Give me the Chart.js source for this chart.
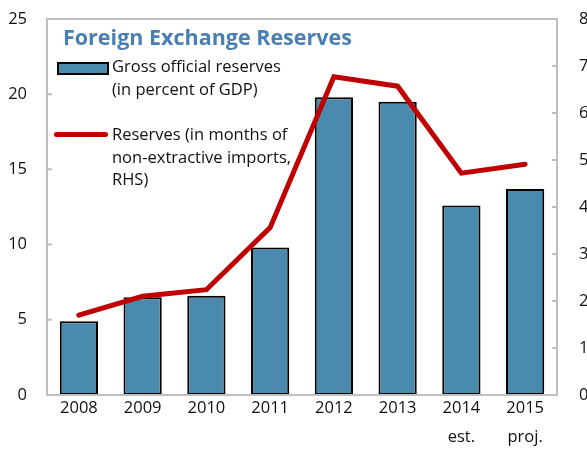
<!DOCTYPE html>
<html>
<head>
<meta charset="utf-8">
<script src="https://cdn.jsdelivr.net/npm/chart.js@4"></script>
<style>
  body { margin: 0; background: #fff; }
  #wrap { position: relative; width: 587px; height: 453px; font-family: 'Open Sans', sans-serif; }
  #title { position: absolute; left: 63px; top: 22px; font-size: 21.5px; font-weight: bold; color: #4a7fb3; white-space: nowrap; }
  .leg { position: absolute; left: 112px; font-size: 16.5px; line-height: 22.5px; color: #111; white-space: nowrap; }
  #swatch { position: absolute; left: 57px; top: 62px; width: 48px; height: 9px; background: #4a8aad; border: 2px solid #000; }
  #redline { position: absolute; left: 54px; top: 132px; width: 54px; height: 5px; background: #c00000; border-radius: 3px; }
</style>
</head>
<body>
<div id="wrap">
  <canvas id="chart_here" width="587" height="453"></canvas>
  <div id="title">Foreign Exchange Reserves</div>
  <div id="swatch"></div>
  <div class="leg" style="top:55px">Gross official reserves<br>(in percent of GDP)</div>
  <div id="redline"></div>
  <div class="leg" style="top:123px">Reserves (in months of<br>non-extractive imports,<br>RHS)</div>
</div>
<script>
'use strict';
// chart data
var years = [['2008'], ['2009'], ['2010'], ['2011'], ['2012'], ['2013'], ['2014', 'est.'], ['2015', 'proj.']];
var grossReserves = [4.9, 6.5, 6.6, 9.8, 19.8, 19.5, 12.6, 13.7];
var monthsImports = [1.7, 2.1, 2.24, 3.56, 6.77, 6.57, 4.72, 4.91];
var leftTicks = [0, 5, 10, 15, 20, 25];
var rightTicks = [0, 1, 2, 3, 4, 5, 6, 7, 8];

var axisGray = '#bfbfbf';

// draws the gray box round the plot and the small inside ticks
var framePlugin = {
  id: 'frame',
  afterDatasetsDraw: function(chart) {
    var ctx = chart.ctx;
    var a = chart.chartArea;
    ctx.save();
    ctx.strokeStyle = axisGray;
    ctx.lineWidth = 2;
    ctx.strokeRect(a.left, a.top, a.right - a.left, a.bottom - a.top);
    ctx.beginPath();
    leftTicks.forEach(function(v) {
      var y = chart.scales.y.getPixelForValue(v);
      ctx.moveTo(a.left, y);
      ctx.lineTo(a.left + 5, y);
    });
    rightTicks.forEach(function(v) {
      var y = chart.scales.y2.getPixelForValue(v);
      ctx.moveTo(a.right, y);
      ctx.lineTo(a.right - 5, y);
    });
    ctx.stroke();
    ctx.restore();
  }
};

// small lineHeight keeps the top label overflow from pushing the plot down
var tickFont = { family: 'Open Sans', size: 16.5, lineHeight: 0.6 };

var ctx = document.getElementById('chart_here').getContext('2d');
var itemChart = new Chart(ctx, {
  type: 'bar',
  data: {
    labels: years,
    datasets: [
      {
        type: 'line',
        label: 'Reserves (in months of non-extractive imports, RHS)',
        data: monthsImports,
        yAxisID: 'y2',
        borderColor: '#c00000',
        borderWidth: 5,
        pointRadius: 0,
        borderCapStyle: 'round',
        tension: 0,
        order: 0
      },
      {
        label: 'Gross official reserves (in percent of GDP)',
        data: grossReserves,
        yAxisID: 'y',
        backgroundColor: '#4a8aad',
        borderColor: '#000',
        borderWidth: 2,
        borderSkipped: false,
        barPercentage: 0.6,
        categoryPercentage: 1,
        order: 1
      }
    ]
  },
  options: {
    responsive: false,
    animation: false,
    layout: { padding: { top: 13, left: 0, right: 0, bottom: 0 } },
    plugins: { legend: { display: false }, tooltip: { enabled: false } },
    scales: {
      x: {
        grid: { display: false },
        border: { display: false },
        ticks: { color: '#111', font: { family: 'Open Sans', size: 16.5, lineHeight: 1.8 }, padding: -10 },
        afterFit: function(scale) { scale.height = 58; }
      },
      y: {
        position: 'left',
        min: 0, max: 25,
        grid: { display: false },
        border: { display: false },
        ticks: { stepSize: 5, color: '#111', font: tickFont, padding: 12 },
        afterFit: function(scale) { scale.width = 47; }
      },
      y2: {
        position: 'right',
        min: 0, max: 8,
        grid: { display: false },
        border: { display: false },
        ticks: { stepSize: 1, color: '#111', font: tickFont, padding: 14 },
        afterFit: function(scale) { scale.width = 30; }
      }
    }
  },
  plugins: [framePlugin]
});
</script>
</body>
</html>
